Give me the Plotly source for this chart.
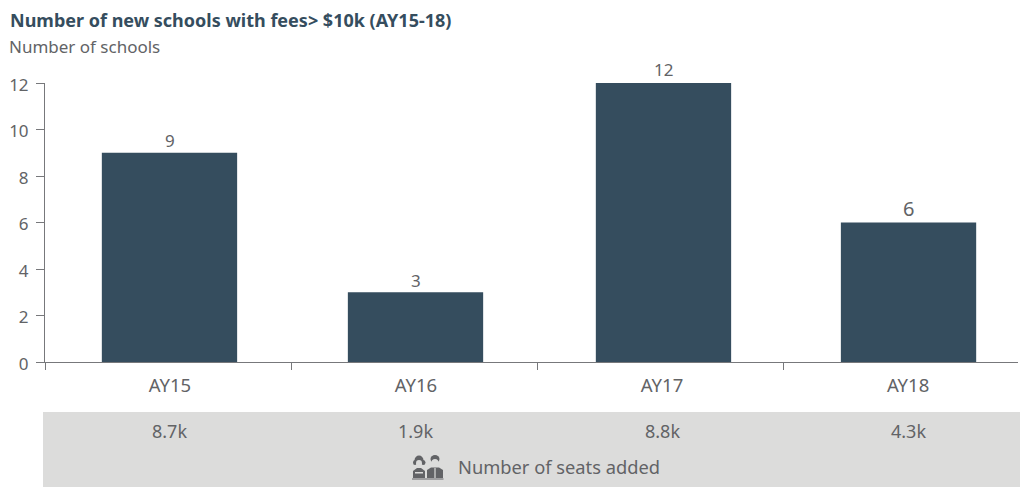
import plotly.graph_objects as go

categories = ["AY15", "AY16", "AY17", "AY18"]
schools = [9, 3, 12, 6]
seats = ["8.7k", "1.9k", "8.8k", "4.3k"]
y_ticks = [0, 2, 4, 6, 8, 10, 12]
title = "Number of new schools with fees&gt; $10k (AY15-18)"
subtitle = "Number of schools"
band_label = "Number of seats added"

FONT = "Noto Sans, Open Sans, sans-serif"
TXT = "#626366"
NAVY = "#354d5e"
AXIS = "#77787b"
BAND = "#dcdcdb"
W, H = 1020, 487
L, R, T, B = 45, 2, 83, 125
pw, ph = W - L - R, H - T - B


def px(x):
    return (x - L) / pw


def py(y):
    return (H - B - y) / ph


fig = go.Figure(go.Bar(
    x=categories, y=schools, marker=dict(color=NAVY, line_width=0), width=0.55,
    offset=[-0.269, -0.269, -0.261, -0.265], hoverinfo="skip",
))

shapes = [dict(type="rect", xref="paper", yref="paper", x0=px(43), x1=px(1020), y0=py(412), y1=py(487),
               fillcolor=BAND, line_width=0, layer="below")]


def poly(points, color):
    path = "M" + " L".join("%.5f,%.5f" % (px(a), py(b)) for a, b in points) + " Z"
    return dict(type="path", xref="paper", yref="paper", fillcolor=color, line_width=0, path=path)


def disc(x0, x1, y0, y1, color):
    return dict(type="circle", xref="paper", yref="paper", x0=px(x0), x1=px(x1), y0=py(y1), y1=py(y0),
                fillcolor=color, line_width=0)


ICON = "#626366"
shapes += [
    # girl: pigtails, hair, face, body, collar
    disc(413, 417, 460, 465, ICON),
    disc(421, 425.5, 460, 465, ICON),
    disc(414.5, 423.5, 455.5, 465, ICON),
    disc(416, 422, 460, 466.5, BAND),
    poly([(413, 478), (413, 471), (417, 468), (421, 468), (425, 471), (425, 478)], ICON),
    poly([(415, 472), (423, 472), (423, 473.5), (415, 473.5)], BAND),
    # boy: hair, face, body, V collar
    disc(430.5, 439.5, 455, 463, ICON),
    disc(431.5, 438.5, 459, 466, BAND),
    poly([(427, 478), (427, 470), (431, 467.5), (439, 467.5), (443, 470), (443, 478)], ICON),
    poly([(434.4, 468), (435.6, 468), (435.6, 478), (434.4, 478)], BAND),
]
shapes.append(dict(type="line", xref="paper", yref="paper", x0=px(412), x1=px(443.5), y0=py(479), y1=py(479),
                   line=dict(color=ICON, width=1)))

annotations = [
    dict(x=px(8), y=py(20), xref="paper", yref="paper", xanchor="left", yanchor="middle", showarrow=False,
         text="<b>%s</b>" % title, font=dict(size=18, color=NAVY, family=FONT)),
    dict(x=px(7), y=py(46.5), xref="paper", yref="paper", xanchor="left", yanchor="middle", showarrow=False,
         text=subtitle, font=dict(size=17, color=TXT, family=FONT)),
    dict(x=px(456), y=py(466), xref="paper", yref="paper", xanchor="left", yanchor="middle", showarrow=False,
         text=band_label, font=dict(size=18.3, color=TXT, family=FONT)),
]
shifts = [1, 1.5, 2, 2]
for c, s, sh in zip(categories, seats, shifts):
    annotations.append(dict(x=c, y=py(431), xref="x", yref="paper", yanchor="middle", showarrow=False,
                            xshift=sh, text=s, font=dict(size=18, color=TXT, family=FONT)))
label_sizes = [17, 17, 17, 20]
label_shifts = [1.5, 1.5, 3.5, 2.5]
label_lifts = [12, 12, 14, 14]
for c, v, fs, sh, lift in zip(categories, schools, label_sizes, label_shifts, label_lifts):
    annotations.append(dict(x=c, y=v, xref="x", yref="y", yanchor="middle", showarrow=False, xshift=sh, yshift=lift,
                            text=str(v), font=dict(size=fs, color=TXT, family=FONT)))

fig.update_layout(
    width=W, height=H, margin=dict(l=L, r=R, t=T, b=B, pad=0),
    paper_bgcolor="white", plot_bgcolor="white", showlegend=False,
    shapes=shapes, annotations=annotations,
    font=dict(family=FONT, color=TXT, size=16),
    xaxis=dict(type="category", range=[-0.5, 3.455], tickson="boundaries", ticks="outside", ticklen=7,
               tickcolor=AXIS, showline=True, linecolor=AXIS, linewidth=1, showgrid=False,
               ticklabelstandoff=7, ticklabelshift=2, tickfont=dict(size=18.5, color=TXT, family=FONT)),
    yaxis=dict(range=[0, 12], tickvals=y_ticks, ticks="outside", ticklen=8, tickcolor=AXIS,
               showline=True, linecolor=AXIS, linewidth=1, showgrid=False, zeroline=False,
               ticklabelstandoff=4, ticklabelshift=2, tickfont=dict(size=17, color=TXT, family=FONT)),
)
fig.write_html("out.html", config={"displayModeBar": False}, post_script="document.body.style.margin='0';")
